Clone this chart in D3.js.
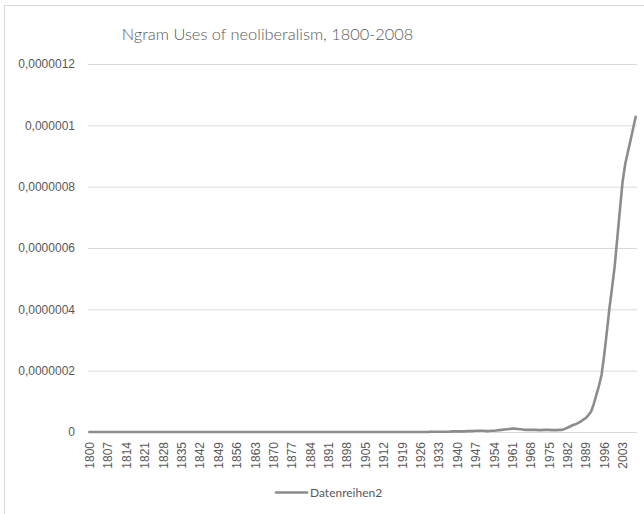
<!DOCTYPE html>
<html>
<head>
<meta charset="utf-8">
<script src="https://cdn.jsdelivr.net/npm/d3@7"></script>
<style>
  body { margin: 0; background: #fff; }
  svg { display: block; font-family: Lato, "Noto Sans", sans-serif; }
</style>
</head>
<body>
<svg id="chart"></svg>
<script>
// categories: one per year
const years = d3.range(1800, 2009);

// Ngram frequency, in units of 1e-9 (one value per year)
const usesPerBillion = [
    // 1800-1929
    0, 0, 0, 0, 0, 0, 0, 0, 0, 0,
    0, 0, 0, 0, 0, 0, 0, 0, 0, 0,
    0, 0, 0, 0, 0, 0, 0, 0, 0, 0,
    0, 0, 0, 0, 0, 0, 0, 0, 0, 0,
    0, 0, 0, 0, 0, 0, 0, 0, 0, 0,
    0, 0, 0, 0, 0, 0, 0, 0, 0, 0,
    0, 0, 0, 0, 0, 0, 0, 0, 0, 0,
    0, 0, 0, 0, 0, 0, 0, 0, 0, 0,
    0, 0, 0, 0, 0, 0, 0, 0, 0, 0,
    0, 0, 0, 0, 0, 0, 0, 0, 0, 0,
    0, 0, 0, 0, 0, 0, 0, 0, 0, 0,
    0, 0, 0, 0, 0, 0, 0, 0, 0, 0,
    0, 0, 0, 0, 0, 0, 0, 0, 0, 0,
    // 1930s
    1, 1, 1, 1, 1, 1, 1, 1, 2, 2,
    // 1940s
    2, 2, 2, 2, 3, 3, 3, 4, 4, 4,
    // 1950s
    4, 3, 3, 4, 4, 5, 6, 7, 8, 9,
    // 1960s
    10, 11, 11, 10, 9, 8, 7, 7, 7, 7,
    // 1970s
    7, 6, 6, 7, 7, 7, 6, 6, 6, 7,
    // 1980s
    7, 10, 14, 18, 22, 25, 29, 34, 40, 45,
    // 1990s
    55, 66, 90, 120, 150, 186, 250, 325, 403, 470,
    // 2000-2008
    540, 632, 725, 815, 873, 912, 950, 989, 1028
];

const yTicks = [0, 0.0000002, 0.0000004, 0.0000006, 0.0000008, 0.000001, 0.0000012];
const xTickYears = [1800, 1807, 1814, 1821, 1828, 1835, 1842, 1849, 1856, 1863, 1870, 1877,
    1884, 1891, 1898, 1905, 1912, 1919, 1926, 1933, 1940, 1947, 1954, 1961, 1968, 1975,
    1982, 1989, 1996, 2003];

const seriesName = 'Datenreihen2';
const title = 'Ngram Uses of neoliberalism, 1800-2008';

const width = 644;
const height = 514;
const margin = { top: 64, right: 7, bottom: 82, left: 88 };
const textColor = '#595959';
const gridColor = '#d9d9d9';
const lineColor = '#8c8c8c';

const data = years.map((y, i) => ({ year: y, value: usesPerBillion[i] * 1e-9 }));

const svg = d3.select('#chart')
    .attr('width', width)
    .attr('height', height);

// chart frame (cut off at right and bottom like the reference)
svg.append('rect')
    .attr('x', 4.5)
    .attr('y', 5.5)
    .attr('width', 800)
    .attr('height', 800)
    .attr('fill', 'none')
    .attr('stroke', gridColor);

const x = d3.scalePoint()
    .domain(years)
    .range([margin.left, width - margin.right])
    .padding(0.5);

const y = d3.scaleLinear()
    .domain([0, 0.0000012])
    .range([height - margin.bottom, margin.top]);

const de = d3.formatLocale({ decimal: ',', thousands: '.', grouping: [3], currency: ['', ' €'] });
const fmt = de.format('.7~f');

//gridlines + y labels
const yAxis = d3.axisLeft(y)
    .tickValues(yTicks)
    .tickFormat(fmt)
    .tickSize(-(width - margin.right - margin.left))
    .tickPadding(13);

const yAxisG = svg.append('g')
    .attr('transform', `translate(${margin.left}, 0)`)
    .call(yAxis);
yAxisG.select('.domain').remove();
yAxisG.selectAll('line').attr('stroke', gridColor);
yAxisG.selectAll('text')
    .attr('fill', textColor)
    .style('font-size', '12px');

//x axis labels
const xAxis = d3.axisBottom(x)
    .tickValues(xTickYears)
    .tickSize(0)
    .tickPadding(0);

const xAxisG = svg.append('g')
    .attr('transform', `translate(0, ${height - margin.bottom})`)
    .call(xAxis);
xAxisG.select('.domain').remove();
xAxisG.selectAll('text')
    .attr('fill', textColor)
    .style('font-size', '12px')
    .attr('text-anchor', 'end')
    .attr('transform', 'rotate(-90)')
    .attr('x', -10)
    .attr('y', 0)
    .attr('dy', '0.35em');

//Line
svg.append('path').datum(data)
    .attr('fill', 'none')
    .attr('stroke', lineColor)
    .attr('stroke-width', 2.6)
    .attr('stroke-linejoin', 'round')
    .attr('stroke-linecap', 'round')
    .attr('d', d3.line()
        .x(d => x(d.year))
        .y(d => y(d.value))
    );

//title
svg.append('text')
    .attr('x', 267.5)
    .attr('y', 39.5)
    .attr('text-anchor', 'middle')
    .attr('fill', textColor)
    .style('font-size', '16.4px')
    .style('font-weight', 300)
    .text(title);

//legend
const legend = svg.append('g');
legend.append('line')
    .attr('x1', 276)
    .attr('x2', 307)
    .attr('y1', 492.5)
    .attr('y2', 492.5)
    .attr('stroke', lineColor)
    .attr('stroke-width', 2.6)
    .attr('stroke-linecap', 'round');
legend.append('text')
    .attr('x', 310)
    .attr('y', 492.5)
    .attr('dy', '0.35em')
    .attr('fill', textColor)
    .style('font-size', '12px')
    .text(seriesName);
</script>
</body>
</html>
